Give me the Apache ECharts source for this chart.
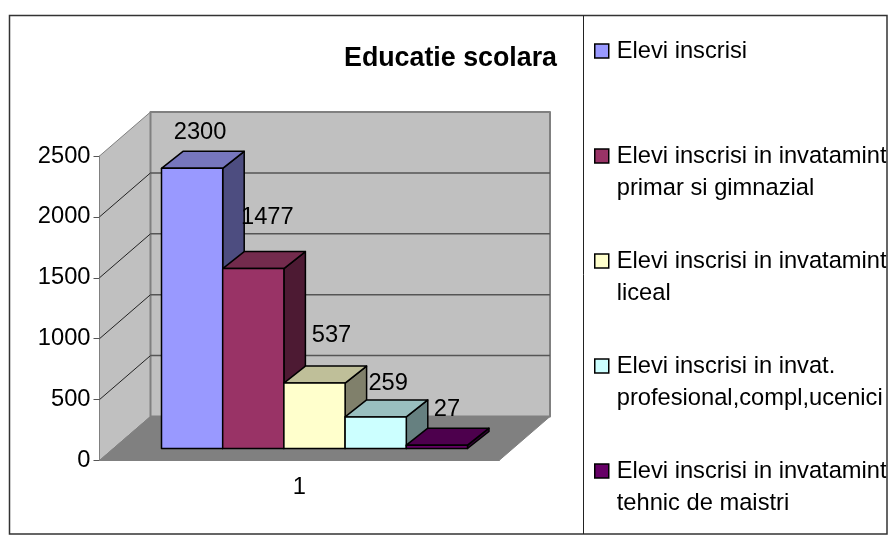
<!DOCTYPE html>
<html>
<head>
<meta charset="utf-8">
<script src="https://cdn.jsdelivr.net/npm/echarts@6/dist/echarts.min.js"></script>
<style>
  html, body { margin: 0; padding: 0; background: #fff; }
  #chart { width: 888px; height: 535px; }
</style>
</head>
<body>
<div id="chart"></div>
<script>
const categories = ['1'];
const yTicks = [0, 500, 1000, 1500, 2000, 2500];
const seriesNames = [
  'Elevi inscrisi',
  'Elevi inscrisi in invatamint\nprimar si gimnazial',
  'Elevi inscrisi in invatamint\nliceal',
  'Elevi inscrisi in invat.\nprofesional,compl,ucenici',
  'Elevi inscrisi in invatamint\ntehnic de maistri'
];
const elevi = [2300];
const primar = [1477];
const liceal = [537];
const profesional = [259];
const maistri = [27];
const seriesValues = [elevi, primar, liceal, profesional, maistri];

// front, top, side of each bar
const barColors = [
  ['#9999ff', '#7676bd', '#4d4d80'],
  ['#993366', '#732b4d', '#4d1a33'],
  ['#ffffcc', '#bfbf99', '#80806b'],
  ['#ccffff', '#99bfbf', '#668080'],
  ['#660066', '#4d004d', '#330033']
];

const font = '"Liberation Sans", Arial, sans-serif';
const textSize = 23.7;
const wallDx = 51, wallDy = 44;   // depth of the floor
const barDx = 21.5, barDy = 17;   // depth of one bar
const barLift = 12, barShift = 14; // bar sits inside the floor
const barStart = 48, barWidth = 61.2;
// excel placed these labels by hand, so each one has its own nudge
const labelNudge = [[8, -36], [14, -51], [17, -48], [12.5, -33], [10, -36]];

function poly(points, fill, stroke, lineWidth) {
  return {
    type: 'polygon',
    shape: { points: points },
    style: { fill: fill, stroke: stroke, lineWidth: lineWidth, lineJoin: 'round' }
  };
}

function line(x1, y1, x2, y2, stroke, lineWidth) {
  return {
    type: 'line',
    shape: { x1: x1, y1: y1, x2: x2, y2: y2 },
    style: { stroke: stroke, lineWidth: lineWidth }
  };
}

function renderWalls(params, api) {
  const band = api.size([1, 0])[0];
  const p = api.coord([api.value(0), api.value(1)]);
  const left = p[0] - band / 2;
  const right = left + band;
  const y = p[1];
  const children = [];
  if (params.dataIndex === 0) {
    const top = api.coord([0, yTicks[yTicks.length - 1]])[1];
    children.push(poly([[left, top], [left + wallDx, top - wallDy], [left + wallDx, y - wallDy], [left, y]], '#c0c0c0', '#808080', 1));
    children.push(poly([[left + wallDx, top - wallDy], [right + wallDx, top - wallDy], [right + wallDx, y - wallDy], [left + wallDx, y - wallDy]], '#c0c0c0', '#808080', 2));
    children.push(poly([[left, y], [left + wallDx, y - wallDy], [right + wallDx, y - wallDy], [right, y]], '#808080', '#808080', 1));
  } else if (params.dataIndex < yTicks.length - 1) {
    children.push(line(left, y, left + wallDx, y - wallDy, '#222', 1));
    children.push(line(left + wallDx, y - wallDy, right + wallDx, y - wallDy, '#555', 1.5));
  }
  return { type: 'group', children: children };
}

function makeBarRenderer(i) {
  return function (params, api) {
    const band = api.size([1, 0])[0];
    const base = api.coord([api.value(0), 0]);
    const tip = api.coord([api.value(0), api.value(1)]);
    const x0 = base[0] - band / 2 + barShift + barStart + i * barWidth;
    const x1 = x0 + barWidth;
    const bottom = base[1] - barLift;
    const top = tip[1] - barLift;
    const c = barColors[i];
    return {
      type: 'group',
      children: [
        poly([[x1, top], [x1 + barDx, top - barDy], [x1 + barDx, bottom - barDy], [x1, bottom]], c[2], '#000', 1.5),
        poly([[x0, top], [x0 + barDx, top - barDy], [x1 + barDx, top - barDy], [x1, top]], c[1], '#000', 1.5),
        poly([[x0, top], [x1, top], [x1, bottom], [x0, bottom]], c[0], '#000', 1.5),
        {
          type: 'text',
          style: {
            text: String(api.value(1)),
            x: (x0 + x1) / 2 + labelNudge[i][0],
            y: top + labelNudge[i][1],
            align: 'center',
            verticalAlign: 'middle',
            fill: '#000',
            font: textSize + 'px ' + font
          }
        }
      ]
    };
  };
}

const series = [{
  type: 'custom',
  name: 'walls',
  renderItem: renderWalls,
  clip: false,
  silent: true,
  encode: { x: 0, y: 1 },
  data: yTicks.map(function (t) { return [0, t]; })
}];
seriesNames.forEach(function (name, i) {
  series.push({
    type: 'custom',
    name: name,
    renderItem: makeBarRenderer(i),
    clip: false,
    encode: { x: 0, y: 1 },
    itemStyle: { color: barColors[i][0] },
    data: seriesValues[i].map(function (v, k) { return [k, v]; })
  });
});

const chart = echarts.init(document.getElementById('chart'), null, { renderer: 'canvas' });
chart.setOption({
  animation: false,
  backgroundColor: '#fff',
  title: {
    text: 'Educatie scolara',
    right: 331,
    top: 45,
    padding: 0,
    textStyle: { fontFamily: font, fontWeight: 'bold', fontSize: 26.8, color: '#000' }
  },
  grid: { left: 99.5, top: 156, width: 399.5, height: 304.5 },
  xAxis: {
    type: 'category',
    data: categories,
    axisLine: { lineStyle: { color: '#333', width: 1 } },
    axisTick: { length: 6, lineStyle: { color: '#555' } },
    axisLabel: { fontFamily: font, fontSize: textSize, color: '#000', margin: 15 },
    splitLine: { show: false }
  },
  yAxis: {
    type: 'value',
    min: 0,
    max: 2500,
    interval: 500,
    axisLine: { show: true, lineStyle: { color: '#555', width: 1 } },
    axisTick: { show: true, length: 6, lineStyle: { color: '#555' } },
    axisLabel: {
      fontFamily: font,
      fontSize: textSize,
      color: '#000',
      margin: 9,
      formatter: function (v) { return String(v); }
    },
    splitLine: { show: false }
  },
  legend: {
    orient: 'vertical',
    left: 594,
    top: 3,
    padding: 0,
    data: seriesNames,
    icon: 'rect',
    itemWidth: 14,
    itemHeight: 14,
    itemGap: 9,
    itemStyle: { borderColor: '#000', borderWidth: 1.5 },
    // blank first line keeps the swatch level with the first text line
    formatter: function (name) {
      return name.indexOf('\n') < 0 ? '\n' + name + '\n ' : '\n' + name;
    },
    textStyle: { fontFamily: font, fontSize: textSize, color: '#000', lineHeight: 32, padding: [0, 0, 0, 3] },
    selectedMode: false
  },
  graphic: [
    { type: 'rect', shape: { x: 9.5, y: 15.5, width: 877.5, height: 518.5 }, style: { fill: 'none', stroke: '#333', lineWidth: 1.5 }, z: 10 },
    { type: 'line', shape: { x1: 583.5, y1: 15.5, x2: 583.5, y2: 534 }, style: { stroke: '#222', lineWidth: 1 }, z: 10 }
  ],
  series: series
});
</script>
</body>
</html>
